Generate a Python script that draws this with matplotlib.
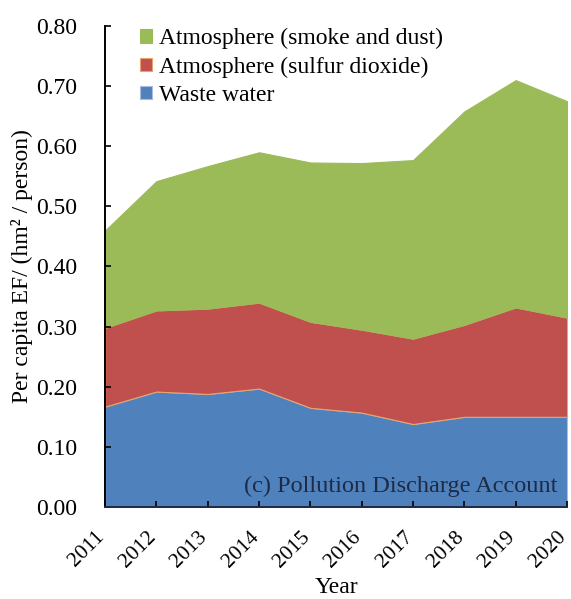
import numpy as np
from matplotlib import pyplot as plt

plt.rcParams["font.family"] = ["Liberation Serif", "DejaVu Serif"]

years = [2011, 2012, 2013, 2014, 2015, 2016, 2017, 2018, 2019, 2020]
waste_water = [0.167, 0.192, 0.188, 0.197, 0.165, 0.157, 0.138, 0.150, 0.150, 0.150]
sulfur_dioxide = [0.131, 0.135, 0.142, 0.143, 0.143, 0.138, 0.142, 0.153, 0.182, 0.165]
smoke_dust = [0.162, 0.215, 0.237, 0.250, 0.265, 0.277, 0.297, 0.355, 0.378, 0.360]

labels = ["Waste water", "Atmosphere (sulfur dioxide)", "Atmosphere (smoke and dust)"]
colors = ["#4F81BD", "#C0504D", "#9BBB59"]
edges = ["#A9BCE0", "#E9A36A", "#9BBB59"]

fig = plt.figure(figsize=(5.71, 5.99), dpi=100)
ax = fig.add_axes([0.184, 0.1536, 0.809, 0.803])

x = np.arange(len(years))
polys = ax.stackplot(x, waste_water, sulfur_dioxide, smoke_dust,
                     colors=colors, labels=labels)
for p, ec in zip(polys, edges):
    p.set_edgecolor(ec)
    p.set_linewidth(0.8)

ax.set_xlim(0, len(years) - 1)
ax.set_ylim(0, 0.80)
ax.set_yticks(np.arange(0, 0.81, 0.1))
ax.set_yticklabels(["{:.2f}".format(v) for v in np.arange(0, 0.81, 0.1)])
ax.set_xticks(x)
ax.set_xticklabels([str(y) for y in years], rotation=45, ha="right",
                   va="baseline", rotation_mode="anchor", fontsize=15.5)

ax.spines["top"].set_visible(False)
ax.spines["right"].set_visible(False)
ax.spines["left"].set_linewidth(1.4)
ax.spines["bottom"].set_linewidth(1.4)
ax.spines["bottom"].set_color("#1F2A44")
ax.tick_params(axis="both", direction="in", length=4, width=1.2)
ax.tick_params(axis="y", pad=20, labelsize=17)
ax.tick_params(axis="x", pad=22)

ax.set_xlabel("Year", fontsize=17, labelpad=4)
ax.set_ylabel("Per capita EF/ (hm² / person)", fontsize=17, labelpad=2)

handles, labs = ax.get_legend_handles_labels()
ax.legend(handles[::-1], labs[::-1], loc="upper left", frameon=False,
          fontsize=17, handlelength=0.5, handleheight=0.5, handletextpad=0.3,
          labelspacing=0.3, borderaxespad=0.0, bbox_to_anchor=(0.055, 1.015))

ax.text(0.98, 0.042, "(c) Pollution Discharge Account", transform=ax.transAxes,
        ha="right", va="center", fontsize=17.5, color="#1F2A44")

fig.savefig("out.png", dpi=100)
